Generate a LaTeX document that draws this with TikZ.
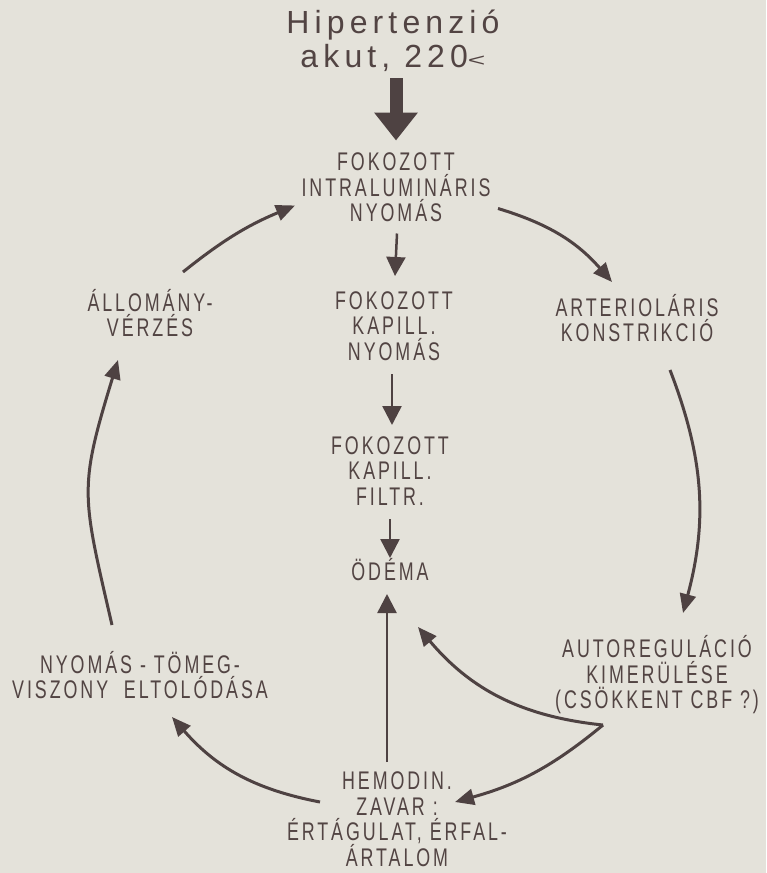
\documentclass[tikz,border=0pt]{standalone}
\usepackage{fontspec}
\usepackage{graphicx}
\setmainfont{Liberation Sans}
\newfontfamily\labfont[FakeStretch=0.7,LetterSpace=11.5]{Liberation Sans}
\newfontfamily\ttlfont[LetterSpace=16]{Liberation Sans}
\usetikzlibrary{arrows.meta}
\definecolor{paper}{HTML}{E4E2DA}
\definecolor{ink}{HTML}{524443}
\definecolor{lineink}{HTML}{4E4242}
\begin{document}
\begin{tikzpicture}[x=1pt,y=-1pt,
  lab/.style={align=center,inner sep=0pt,text=ink,font=\labfont\fontsize{25.5}{25.5}\selectfont},
  ttl/.style={align=center,inner sep=0pt,text=ink,font=\ttlfont\fontsize{32}{34}\selectfont},
  carr/.style={draw=lineink,line width=3pt,-{Triangle[length=19pt,width=16pt]}},
  varr/.style={draw=lineink,line width=2.5pt,-{Triangle[length=19pt,width=19pt]}},
  bigarr/.style={draw=lineink,line width=13pt,-{Triangle[length=28pt,width=42pt]}}
]
\fill[paper] (0,0) rectangle (766,873);
\useasboundingbox (0,0) rectangle (766,873);

\node[ttl] (title) at (393,41) {Hipertenzió\\akut, 220\raisebox{1pt}{\fontsize{30}{30}\selectfont\scalebox{1.0}[0.6]{<}}};
\node[lab] (fip) at (396,187.5) {FOKOZOTT\\INTRALUMINÁRIS\\NYOMÁS};
\node[lab] (fkn) at (394,326) {FOKOZOTT\\KAPILL.\\NYOMÁS};
\node[lab] (fkf) at (390,471) {FOKOZOTT\\KAPILL.\\FILTR.};
\node[lab] (odema) at (390,570) {ÖDÉMA};
\node[lab] (hemodin) at (397,819) {HEMODIN.\\ZAVAR :\\ÉRTÁGULAT, ÉRFAL-\\ÁRTALOM};
\node[lab] (allom) at (150,313) {ÁLLOMÁNY-\\VÉRZÉS};
\node[lab] (arter) at (637,318) {ARTERIOLÁRIS\\KONSTRIKCIÓ};
\node[lab] (autoreg) at (657,675) {AUTOREGULÁCIÓ\\KIMERÜLÉSE\\(CSÖKKENT CBF ?)};
\node[lab] (nyomas) at (140,675) {NYOMÁS - TÖMEG-\\VISZONY~~ELTOLÓDÁSA};

% central column
\draw[bigarr] ([shift={(3,37)}]title.center) -- ([shift={(0,-47)}]fip.center);
\draw[varr] ([shift={(1,46)}]fip.center) -- ([shift={(1,-50)}]fkn.center);
\draw[varr] ([shift={(-2,48)}]fkn.center) -- ([shift={(2,-46)}]fkf.center);
\draw[varr] ([shift={(0,48)}]fkf.center) -- ([shift={(0,-12)}]odema.center);
\draw[varr] ([shift={(-10,-57)}]hemodin.center) -- ([shift={(-3,24)}]odema.center);

% cycle
\draw[carr] ([shift={(33,-41)}]allom.center) to[bend left=8] ([shift={(-101,18)}]fip.center);
\draw[carr] ([shift={(102,21)}]fip.center) to[bend left=16] ([shift={(-25,-36)}]arter.center);
\draw[carr] ([shift={(33,52)}]arter.center) to[bend left=18] ([shift={(26,-62)}]autoreg.center);
\draw[carr] ([shift={(-54,50)}]autoreg.center) to[bend left=22] ([shift={(28,57)}]odema.center);
\draw[carr] ([shift={(-54,50)}]autoreg.center) to[bend left=12] ([shift={(58,-17)}]hemodin.center);
\draw[carr] ([shift={(-77,-17)}]hemodin.center) to[bend left=19] ([shift={(32,42)}]nyomas.center);
\draw[carr] ([shift={(-28,-50)}]nyomas.center) to[out=103,in=-107,looseness=1.3] ([shift={(-32,47)}]allom.center);
\end{tikzpicture}
\end{document}
